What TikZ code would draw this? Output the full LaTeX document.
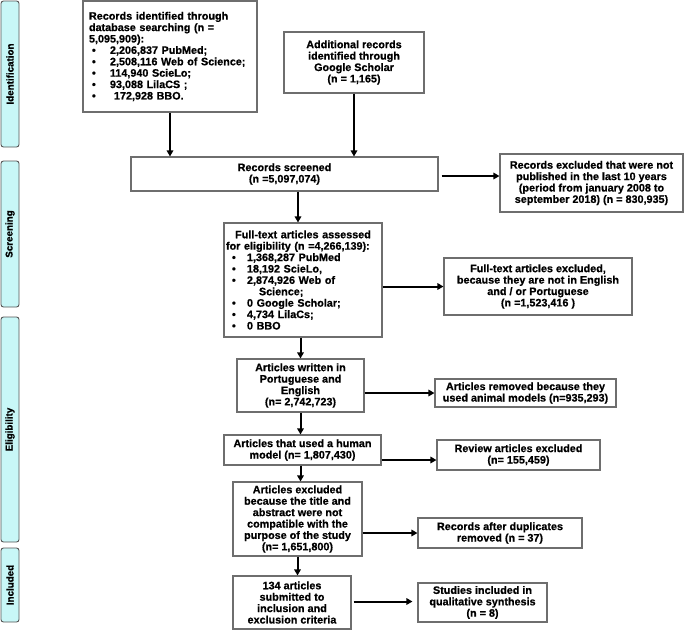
\documentclass[tikz,border=0pt]{standalone}
\usepackage{fontspec}
\setmainfont{Liberation Sans}
\newfontfamily\bsans{Liberation Sans Bold}[FakeBold=0.7]
\usetikzlibrary{arrows.meta,calc}
\definecolor{boxgray}{HTML}{6E6E6E}
\definecolor{sidecyan}{HTML}{C8F7F7}
\definecolor{sidegray}{HTML}{555555}
\newcommand\pbul{\hspace*{3pt}\makebox[18pt][l]{\textbullet}}
\newcommand\qbul{\hspace*{6pt}\makebox[15pt][l]{\textbullet}}
\begin{document}
\begin{tikzpicture}[x=1pt,y=-1pt,
  box/.style={draw=boxgray, line width=1.1pt, fill=white, inner sep=1pt,
    font=\bsans\fontsize{10.8}{11.4}\selectfont, align=center},
  side/.style={draw=sidegray, fill=sidecyan, rounded corners=2.5pt, line width=0.9pt,
    rotate=90, minimum height=18pt, inner sep=0pt,
    font=\bsans\fontsize{9.8}{11}\selectfont},
  arr/.style={line width=2pt, -{Triangle[length=6pt,width=6.5pt]}}]
\useasboundingbox (0,0) rectangle (685,630);

% side labels
\node[side, minimum width=146pt] (sid) at (10,74) {Identification};
\node[side, minimum width=146pt] (sscr) at (10,234) {Screening};
\node[side, minimum width=225pt] (selig) at (10,429.5) {Eligibility};
\node[side, minimum width=74pt] (sinc) at (10,585) {Included};

% boxes
\node[box, minimum width=174pt, minimum height=111pt, text width=162pt, align=left] (b1) at (170,56.5)
 {Records identified through\\
  database searching (n =\\
  5,095,909):\\
  \pbul 2,206,837 PubMed;\\
  \pbul 2,508,116 Web of Science;\\
  \pbul 114,940 ScieLo;\\
  \pbul 93,088 LilaCS ;\\
  \pbul\hspace{4pt}172,928 BBO.};
\node[box, minimum width=140pt, minimum height=61pt] (b2) at (354,62.5)
 {Additional records\\ identified through\\ Google Scholar\\ (n = 1,165)};
\node[box, minimum width=307pt, minimum height=34pt] (b3) at (284.5,174)
 {Records screened\\ (n =5,097,074)};
\node[box, minimum width=183pt, minimum height=58pt] (b4) at (591.5,183)
 {Records excluded that were not\\ published in the last 10 years\\ (period from january 2008 to\\ september 2018) (n = 830,935)};
\node[box, minimum width=158pt, minimum height=114pt, text width=154pt, align=left] (b5) at (303,280)
 {\makebox[154pt][c]{Full-text articles assessed}\\
  for eligibility (n =4,266,139):\\
  \qbul 1,368,287 PubMed\\
  \qbul 18,192 ScieLo,\\
  \qbul 2,874,926 Web of\\
  \hspace*{33pt}Science;\\
  \qbul 0 Google Scholar;\\
  \qbul 4,734 LilaCs;\\
  \qbul 0 BBO};
\node[box, minimum width=188pt, minimum height=57pt] (b6) at (538,286.5)
 {Full-text articles excluded,\\ because they are not in English\\ and / or Portuguese\\ (n =1,523,416 )};
\node[box, minimum width=127pt, minimum height=53pt] (b7) at (300.5,385.5)
 {Articles written in\\ Portuguese and\\ English\\ (n= 2,742,723)};
\node[box, minimum width=181pt, minimum height=28pt] (b8) at (525.5,393)
 {Articles removed because they\\ used animal models (n=935,293)};
\node[box, minimum width=157pt, minimum height=30pt] (b9) at (302.5,450)
 {Articles that used a human\\ model (n= 1,807,430)};
\node[box, minimum width=163pt, minimum height=30pt] (b10) at (518.5,455)
 {Review articles excluded\\ (n= 155,459)};
\node[box, minimum width=129pt, minimum height=74pt] (b11) at (297.5,519)
 {Articles excluded\\ because the title and\\ abstract were not\\ compatible with the\\ purpose of the study\\ (n= 1,651,800)};
\node[box, minimum width=164pt, minimum height=30pt] (b12) at (500,533)
 {Records after duplicates\\ removed (n = 37)};
\node[box, minimum width=118pt, minimum height=53pt] (b13) at (292,602.5)
 {134 articles\\ submitted to\\ inclusion and\\ exclusion criteria};
\node[box, minimum width=129pt, minimum height=39pt] (b14) at (482.5,602.5)
 {Studies included in\\ qualitative synthesis\\ (n = 8)};

% connectors
\draw[arr] (b1.south) -- (b1.south |- b3.north);
\draw[arr] (b2.south) -- (b2.south |- b3.north);
\draw[arr] ($(b3.east)+(3,2)$) -- ($(b3.east -| b4.west)+(0,2)$);
\draw[arr] ($(b5.north |- b3.south)+(-5,0)$) -- ($(b5.north)+(-5,0)$);
\draw[arr] (b5.east |- b6.west) -- (b6.west);
\draw[arr] (b7.north |- b5.south) -- (b7.north);
\draw[arr] (b7.east |- b8.west) -- (b8.west);
\draw[arr] (b7.south) -- (b7.south |- b9.north);
\draw[arr] ($(b9.east)+(0,10)$) -- ($(b9.east -| b10.west)+(0,10)$);
\draw[arr] ($(b9.south)+(-2,0)$) -- ($(b9.south |- b11.north)+(-2,0)$);
\draw[arr] (b11.east |- b12.west) -- (b12.west);
\draw[arr] (b11.south) -- (b11.south |- b13.north);
\draw[arr] ($(b13.east)+(2,-1)$) -- ($(b13.east -| b14.west)+(-5,-1)$);
\end{tikzpicture}
\end{document}
